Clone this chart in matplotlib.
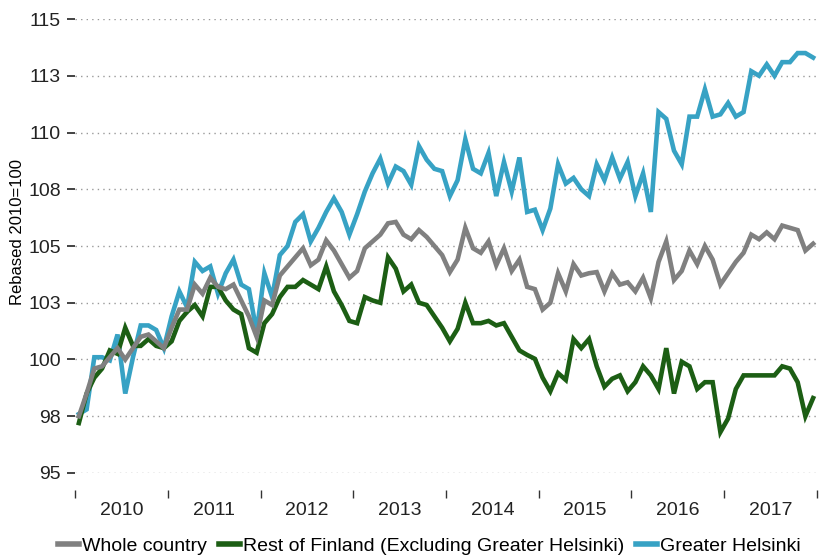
import numpy as np
import matplotlib
matplotlib.use('Agg')
import matplotlib.pyplot as plt
from matplotlib.lines import Line2D
from matplotlib.ticker import FuncFormatter

plt.rcParams['font.family'] = ['Liberation Sans', 'DejaVu Sans']

# monthly index, Jan 2010 .. Dec 2017 (rebased 2010=100)
years = ['2010', '2011', '2012', '2013', '2014', '2015', '2016', '2017']

whole_country = [
    97.5, 98.5, 99.6, 99.7, 100.1, 100.5, 100.0, 100.5, 101.0, 101.1, 100.8, 100.5,
    101.4, 102.2, 102.2, 103.3, 102.9, 103.6, 103.2, 103.1, 103.3, 102.6, 101.9, 101.0,
    102.6, 102.4, 103.7, 104.1, 104.5, 104.9, 104.15, 104.4, 105.25, 104.8, 104.2, 103.6,
    103.9, 104.9, 105.2, 105.5, 106.0, 106.06, 105.5, 105.3, 105.7, 105.4, 105.0, 104.6,
    103.85, 104.4, 105.8, 104.9, 104.7, 105.2, 104.15, 104.9, 103.9, 104.4, 103.2, 103.1,
    102.2, 102.5, 103.8, 103.0, 104.2, 103.7, 103.8, 103.85, 103.0, 103.8, 103.3, 103.4,
    103.0, 103.6, 102.7, 104.3, 105.2, 103.5, 103.9, 104.8, 104.2, 105.0, 104.4, 103.3,
    103.8, 104.3, 104.7, 105.5, 105.3, 105.6, 105.3, 105.9, 105.8, 105.7, 104.8, 105.1,
]

rest_of_finland = [
    97.2, 98.5, 99.2, 99.6, 100.4, 100.25, 101.4, 100.6, 100.6, 100.9, 100.6, 100.5,
    100.8, 101.7, 102.1, 102.4, 101.9, 103.2, 103.2, 102.6, 102.2, 102.0, 100.5, 100.3,
    101.6, 102.0, 102.75, 103.2, 103.2, 103.5, 103.3, 103.1, 104.1, 103.0, 102.4, 101.7,
    101.6, 102.75, 102.6, 102.5, 104.5, 104.0, 103.0, 103.3, 102.5, 102.4, 101.9, 101.4,
    100.8, 101.35, 102.5, 101.6, 101.6, 101.7, 101.5, 101.6, 101.0, 100.4, 100.2, 100.03,
    99.2, 98.6, 99.4, 99.1, 100.9, 100.5, 100.9, 99.7, 98.8, 99.15, 99.3, 98.6,
    99.0, 99.7, 99.3, 98.7, 100.5, 98.5, 99.9, 99.7, 98.7, 99.0, 99.0, 96.8,
    97.4, 98.7, 99.3, 99.3, 99.3, 99.3, 99.3, 99.7, 99.6, 99.0, 97.5, 98.3,
]

greater_helsinki = [
    97.6, 97.8, 100.1, 100.1, 99.96, 101.1, 98.5, 100.1, 101.5, 101.5, 101.3, 100.5,
    101.9, 103.0, 102.3, 104.3, 103.9, 104.1, 102.9, 103.8, 104.4, 103.3, 103.1, 101.2,
    103.8, 102.75, 104.6, 105.0, 106.06, 106.4, 105.2, 105.8, 106.5, 107.1, 106.5, 105.5,
    106.4, 107.4, 108.2, 108.85, 107.75, 108.5, 108.3, 107.7, 109.4, 108.8, 108.4, 108.3,
    107.2, 107.9, 109.7, 108.4, 108.2, 109.1, 107.2, 108.7, 107.4, 108.9, 106.5, 106.6,
    105.7, 106.65, 108.6, 107.75, 108.0, 107.5, 107.2, 108.6, 107.9, 108.9, 107.97, 108.7,
    107.2, 108.2, 106.5, 110.9, 110.6, 109.2, 108.6, 110.7, 110.7, 111.9, 110.7, 110.8,
    111.3, 110.7, 110.9, 112.7, 112.5, 113.0, 112.5, 113.1, 113.1, 113.5, 113.5, 113.3,
]

c_gray = '#808080'
c_green = '#1c5e14'
c_blue = '#37a2c4'

fig = plt.figure(figsize=(8.4, 5.56), dpi=100)
ax = fig.add_axes([0.0893, 0.1493, 0.8833, 0.8165])

x = np.arange(len(whole_country))
ax.plot(x, greater_helsinki, color=c_blue, lw=3.3, solid_joinstyle='miter', zorder=3)
ax.plot(x, rest_of_finland, color=c_green, lw=3.3, solid_joinstyle='miter', zorder=3)
ax.plot(x, whole_country, color=c_gray, lw=3.3, solid_joinstyle='miter', zorder=4)

ax.set_xlim(-0.5, 95.5)
ax.set_ylim(95, 115)
ax.set_yticks(np.arange(95, 115.1, 2.5))
ax.yaxis.set_major_formatter(FuncFormatter(lambda v, p: '%d' % int(np.floor(v + 0.5))))
ax.grid(axis='y', linestyle=(0, (1, 3)), color='#999999', lw=1)
ax.set_axisbelow(True)

for s in ax.spines.values():
    s.set_visible(False)
ax.spines['bottom'].set_position(('outward', 12))

ax.set_xticks(np.arange(-0.5, 96, 12))
ax.set_xticks(np.arange(5.5, 96, 12), minor=True)
ax.set_xticklabels([])
ax.set_xticklabels(years, minor=True)
ax.tick_params(axis='x', which='major', length=6, width=1, color='#333333')
ax.tick_params(axis='x', which='minor', length=0, pad=9, labelsize=14, labelcolor='#222222')
ax.tick_params(axis='y', length=6, width=1.2, color='#222222', pad=4,
               labelsize=14, labelcolor='#222222')

ax.set_ylabel('Rebased 2010=100', fontsize=12)
ax.yaxis.set_label_coords(-0.067, 0.53)

handles = [Line2D([], [], color=c_gray, lw=4),
           Line2D([], [], color=c_green, lw=4),
           Line2D([], [], color=c_blue, lw=4)]
labels = ['Whole country', 'Rest of Finland (Excluding Greater Helsinki)', 'Greater Helsinki']
fig.legend(handles, labels, loc='center', bbox_to_anchor=(0.511, 0.018), ncol=3,
           frameon=False, fontsize=14, handlelength=1.1, handletextpad=0.15,
           columnspacing=0.6, borderpad=0, borderaxespad=0)

fig.savefig('out.png', dpi=100)
